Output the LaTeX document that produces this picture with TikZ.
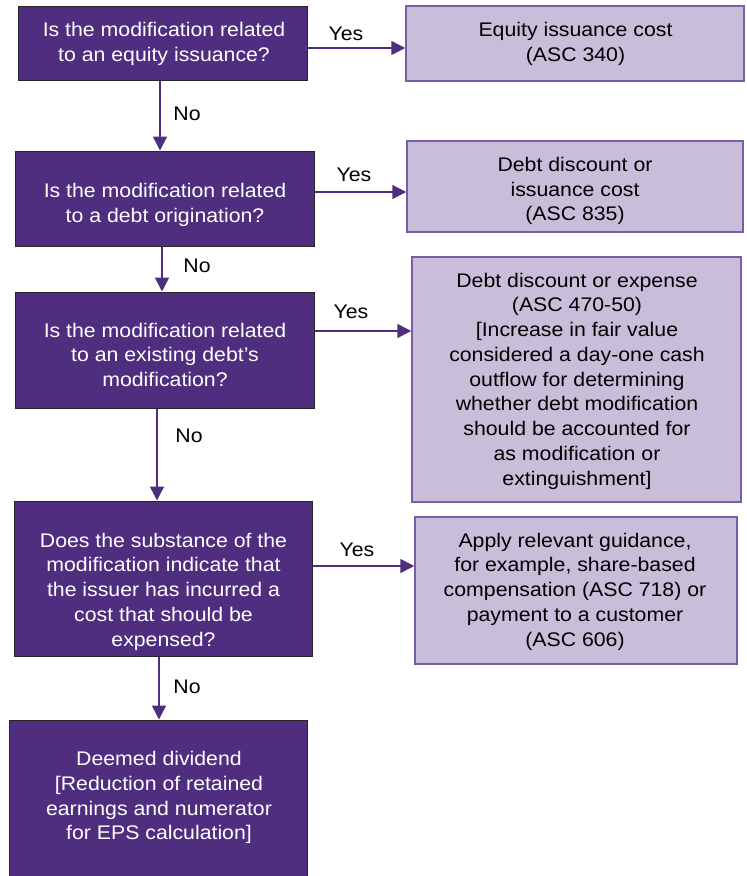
\documentclass[tikz,border=0pt]{standalone}
\usepackage{fontspec}
\newfontfamily\arialf[FakeStretch=1.08]{Liberation Sans}
\usetikzlibrary{arrows.meta}
\definecolor{kdark}{HTML}{4F2D7F}
\definecolor{klight}{HTML}{C9BEDA}
\definecolor{kedge}{HTML}{7B5CA8}
\newcommand{\fst}{\rule{0pt}{16bp}}
\begin{document}
\begin{tikzpicture}[x=1bp,y=-1bp,
  every node/.style={font=\arialf\fontsize{19.7bp}{24.75bp}\selectfont},
  qbox/.style={rectangle, draw=black!85, line width=1bp, fill=kdark, inner sep=0pt},
  abox/.style={rectangle, draw=kedge, line width=1.5bp, fill=klight, inner sep=0pt},
  qtxt/.style={anchor=north, inner sep=0pt, align=center, text=white},
  atxt/.style={anchor=north, inner sep=0pt, align=center, text=black},
  lbl/.style={anchor=base, inner sep=0pt, text=black},
  arr/.style={draw=kdark, line width=1.5bp, -{Triangle[length=14bp,width=14bp]}}]
\useasboundingbox (0,0) rectangle (747,876);

% question boxes
\node[qbox, minimum width=288bp, minimum height=73bp] (q1) at (163,43.5) {};
\node[qbox, minimum width=298bp, minimum height=95bp] (q2) at (165,198.5) {};
\node[qbox, minimum width=298bp, minimum height=116bp] (q3) at (165,350) {};
\node[qbox, minimum width=297bp, minimum height=155bp] (q4) at (163.5,578.5) {};
\node[qbox, minimum width=297bp, minimum height=180bp] (q5) at (158.5,810) {};

% answer boxes
\node[abox, minimum width=338bp, minimum height=75bp] (r1) at (575,43.5) {};
\node[abox, minimum width=336bp, minimum height=91bp] (r2) at (575,186.5) {};
\node[abox, minimum width=329bp, minimum height=245bp] (r3) at (576.5,379.5) {};
\node[abox, minimum width=322bp, minimum height=147bp] (r4) at (576,590.5) {};

% texts
\node[qtxt] (q1t) at (164,20.6) {\fst Is the modification related\\to an equity issuance?};
\node[qtxt] (q2t) at (165,181.6) {\fst Is the modification related\\to a debt origination?};
\node[qtxt] (q3t) at (165,321) {\fst Is the modification related\\to an existing debt’s\\modification?};
\node[qtxt] (q4t) at (163.5,531) {\fst Does the substance of the\\modification indicate that\\the issuer has incurred a\\cost that should be\\expensed?};
\node[qtxt] (q5t) at (159,749.4) {\fst Deemed dividend\\{[}Reduction of retained\\earnings and numerator\\for EPS calculation]};

\node[atxt] (r1t) at (575.5,20.6) {\fst Equity issuance cost\\(ASC 340)};
\node[atxt] (r2t) at (575,155.25) {\fst Debt discount or\\issuance cost\\(ASC 835)};
\node[atxt] (r3t) at (577,271) {\fst Debt discount or expense\\(ASC 470-50)\\{[}Increase in fair value\\considered a day-one cash\\outflow for determining\\whether debt modification\\should be accounted for\\as modification or\\extinguishment]};
\node[atxt] (r4t) at (575,531) {\fst Apply relevant guidance,\\for example, share-based\\compensation (ASC 718) or\\payment to a customer\\(ASC 606)};

% connectors
\coordinate (s1) at ([yshift=-4.5bp]q1.east);
\coordinate (s2) at ([yshift=6.5bp]q2.east);
\coordinate (s3) at ([yshift=19bp]q3.east);
\coordinate (s4) at ([yshift=12.5bp]q4.east);
\draw[arr] (s1) -- (s1 -| r1.west);
\draw[arr] (s2) -- (s2 -| r2.west);
\draw[arr] (s3) -- (s3 -| r3.west);
\draw[arr] (s4) -- (s4 -| r4.west);

\coordinate (d1) at ([xshift=-3bp]q1.south);
\coordinate (d2) at ([xshift=-3bp]q2.south);
\coordinate (d3) at ([xshift=-8bp]q3.south);
\coordinate (d4) at ([xshift=-4.5bp]q4.south);
\draw[arr] (d1) -- (d1 |- q2.north);
\draw[arr] (d2) -- (d2 |- q3.north);
\draw[arr] (d3) -- (d3 |- q4.north);
\draw[arr] (d4) -- (d4 |- q5.north);

% labels
\node[lbl] (y1) at (346,40) {Yes};
\node[lbl] (y2) at (354,181) {Yes};
\node[lbl] (y3) at (351,318) {Yes};
\node[lbl] (y4) at (357,556) {Yes};
\node[lbl] (n1) at (187,120) {No};
\node[lbl] (n2) at (197,272) {No};
\node[lbl] (n3) at (189,442) {No};
\node[lbl] (n4) at (187,693) {No};
\end{tikzpicture}
\end{document}
